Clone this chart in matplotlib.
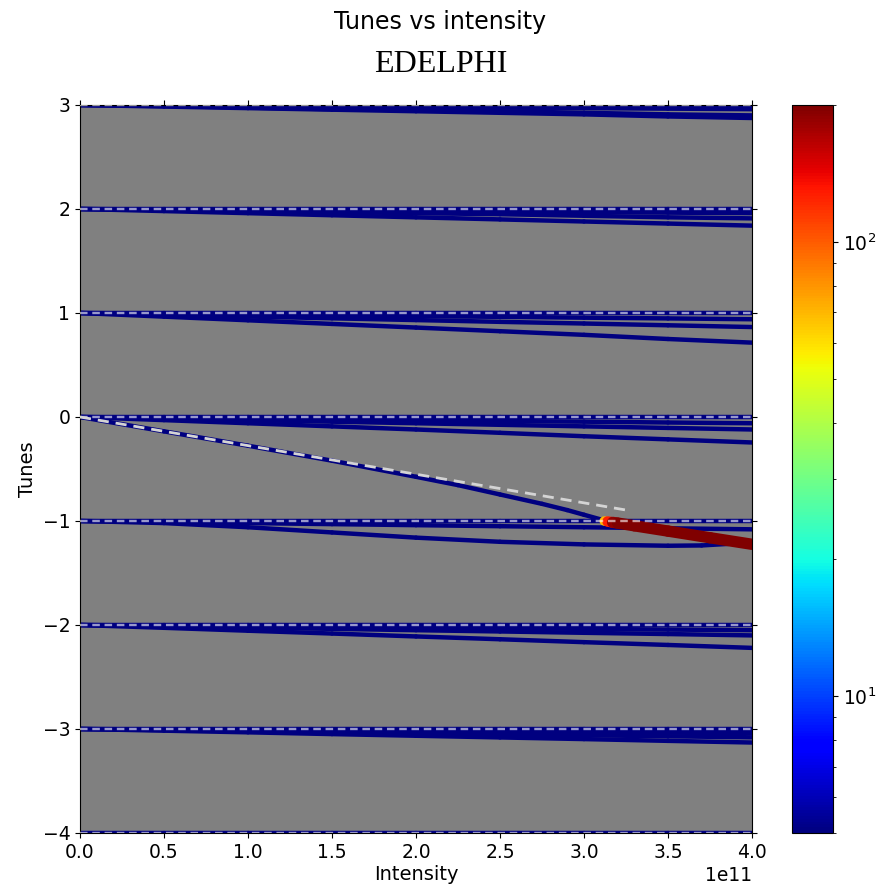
import matplotlib
matplotlib.use("Agg")
import numpy as np
import matplotlib.pyplot as plt
from matplotlib.collections import LineCollection
from matplotlib.colors import LogNorm
from matplotlib.cm import ScalarMappable

# ---------------- data (intensity in units of 1e11) ----------------
intensity = [0.0, 0.5, 1.0, 1.5, 2.0, 2.5, 3.0, 3.5, 4.0]

band_p3 = [
    [3.00, 3.00, 3.00, 3.00, 3.00, 3.00, 3.00, 3.00, 3.00],
    [3.00, 2.995, 2.99, 2.985, 2.98, 2.975, 2.97, 2.965, 2.96],
    [3.00, 2.99, 2.975, 2.96, 2.95, 2.94, 2.925, 2.91, 2.90],
    [3.00, 2.985, 2.97, 2.955, 2.94, 2.925, 2.91, 2.89, 2.875],
]
band_p2 = [
    [2.00, 2.00, 2.00, 2.00, 2.00, 2.00, 2.00, 2.00, 2.00],
    [2.00, 1.995, 1.99, 1.985, 1.98, 1.975, 1.97, 1.965, 1.96],
    [2.00, 1.99, 1.98, 1.97, 1.96, 1.95, 1.935, 1.92, 1.91],
    [2.00, 1.98, 1.96, 1.94, 1.92, 1.90, 1.88, 1.86, 1.84],
]
band_p1 = [
    [1.00, 1.00, 1.00, 1.00, 1.00, 1.00, 1.00, 1.00, 1.00],
    [1.00, 0.993, 0.985, 0.978, 0.97, 0.963, 0.955, 0.948, 0.94],
    [1.00, 0.983, 0.966, 0.949, 0.932, 0.915, 0.899, 0.882, 0.865],
    [1.00, 0.965, 0.93, 0.895, 0.86, 0.825, 0.79, 0.75, 0.715],
]
band_0 = [
    [0.00, 0.00, 0.00, 0.00, 0.00, 0.00, 0.00, 0.00, 0.00],
    [0.00, -0.008, -0.015, -0.023, -0.03, -0.038, -0.045, -0.053, -0.06],
    [0.00, -0.015, -0.03, -0.045, -0.06, -0.075, -0.09, -0.105, -0.12],
    [0.00, -0.03, -0.06, -0.09, -0.12, -0.152, -0.185, -0.215, -0.245],
]
band_m1 = [
    [-1.00, -1.00, -1.00, -1.00, -1.00, -1.00, -1.00, -1.00, -1.00],
    [-1.00, -1.01, -1.02, -1.03, -1.04, -1.05, -1.06, -1.07, -1.08],
]
band_m2 = [
    [-2.00, -2.00, -2.00, -2.00, -2.00, -2.00, -2.00, -2.00, -2.00],
    [-2.00, -2.006, -2.012, -2.019, -2.025, -2.031, -2.037, -2.044, -2.05],
    [-2.00, -2.012, -2.025, -2.037, -2.05, -2.062, -2.075, -2.087, -2.10],
    [-2.00, -2.027, -2.055, -2.082, -2.11, -2.137, -2.165, -2.192, -2.22],
]
band_m3 = [
    [-3.00, -3.00, -3.00, -3.00, -3.00, -3.00, -3.00, -3.00, -3.00],
    [-3.00, -3.005, -3.01, -3.015, -3.02, -3.025, -3.03, -3.035, -3.04],
    [-3.00, -3.01, -3.02, -3.03, -3.04, -3.05, -3.06, -3.07, -3.08],
    [-3.00, -3.016, -3.032, -3.049, -3.065, -3.081, -3.097, -3.114, -3.13],
]
band_m4 = [
    [-4.00, -4.00, -4.00, -4.00, -4.00, -4.00, -4.00, -4.00, -4.00],
]

# lower branch of the -1 family
intensity_low = [0.0, 0.5, 1.0, 1.5, 2.0, 2.5, 3.0, 3.5, 3.7, 3.86]
tune_low = [-1.00, -1.02, -1.06, -1.11, -1.16, -1.20, -1.225, -1.238, -1.235, -1.22]

# mode 0 shifting down to mode -1
intensity_c = [0.0, 0.5, 1.0, 1.5, 2.0, 2.25, 2.5, 2.75, 2.9, 3.0, 3.1, 3.12]
tune_c = [0.0, -0.138, -0.276, -0.42, -0.575, -0.655, -0.745, -0.835, -0.895, -0.94, -0.985, -1.0]

# unstable merged mode
intensity_u = [3.12, 3.14, 3.17, 3.2, 3.3, 3.5, 3.75, 4.0]
tune_u = [-1.0, -1.005, -1.013, -1.02, -1.046, -1.097, -1.161, -1.224]
growth_u = [50, 100, 160, 220, 300, 380, 440, 500]

# reference (dashed) line
intensity_ref = [0.0, 3.27]
tune_ref = [0.0, -0.9]

integer_tunes = [-4, -3, -2, -1, 0, 1, 2, 3]
stable_growth = 1.0

# ---------------- plotting ----------------
fig = plt.figure(figsize=(8.81, 8.85), dpi=100)
ax = fig.add_axes([80 / 881, 52 / 885, 672 / 881, 728 / 885])
cax = fig.add_axes([792 / 881, 52 / 885, 41 / 881, 728 / 885])
ax.set_facecolor("gray")

cmap = plt.get_cmap("jet")
norm = LogNorm(vmin=5, vmax=200)


def draw_mode(xs, ys, gs):
    xs = np.asarray(xs, float) * 1e11
    ys = np.asarray(ys, float)
    gs = np.asarray(gs, float)
    pts = np.column_stack([xs, ys])
    segs = np.stack([pts[:-1], pts[1:]], axis=1)
    gmid = np.sqrt(gs[:-1] * gs[1:])
    frac = np.clip(np.log(gmid / 5.0) / np.log(40.0), 0, 1)
    lws = 3.2 + 5.0 * frac
    lc = LineCollection(segs, cmap=cmap, norm=norm, linewidths=lws,
                        capstyle="round", joinstyle="round", zorder=2)
    lc.set_array(gmid)
    ax.add_collection(lc)


for band in [band_p3, band_p2, band_p1, band_0, band_m1, band_m2, band_m3, band_m4]:
    for tunes in band:
        draw_mode(intensity, tunes, [stable_growth] * len(intensity))

draw_mode(intensity_low, tune_low, [stable_growth] * len(intensity_low))
draw_mode(intensity_c, tune_c, [stable_growth] * len(intensity_c))
draw_mode(intensity_u, tune_u, growth_u)

for k in integer_tunes:
    ax.axhline(k, color="white", alpha=0.6, lw=1.7, ls=(0, (3.2, 2.0)), zorder=4)

ax.plot(np.asarray(intensity_ref) * 1e11, tune_ref, color="#d4d4d4", lw=2.0,
        ls=(0, (4, 2.5)), zorder=4)

ax.set_xlim(0, 4e11)
ax.set_ylim(-4, 3)
ax.set_xticks(np.arange(0, 4.01, 0.5) * 1e11)
ax.set_yticks(integer_tunes)
ax.tick_params(axis="both", which="both", direction="out", top=True, right=True,
               labelsize=13.5)
ax.xaxis.get_offset_text().set_fontsize(13.5)
ax.set_xlabel("Intensity", fontsize=14, labelpad=2)
ax.set_ylabel("Tunes", fontsize=14)

sm = ScalarMappable(norm=norm, cmap=cmap)
cb = fig.colorbar(sm, cax=cax)
cb.ax.tick_params(labelsize=13.5)

fig.text(0.5, 1 - 22 / 885, "Tunes vs intensity", ha="center", va="center", fontsize=17)
fig.text(0.5, 1 - 64 / 885, "EDELPHI", ha="center", va="center", fontsize=23,
         family="Liberation Serif")

fig.savefig("out.png", dpi=100)
